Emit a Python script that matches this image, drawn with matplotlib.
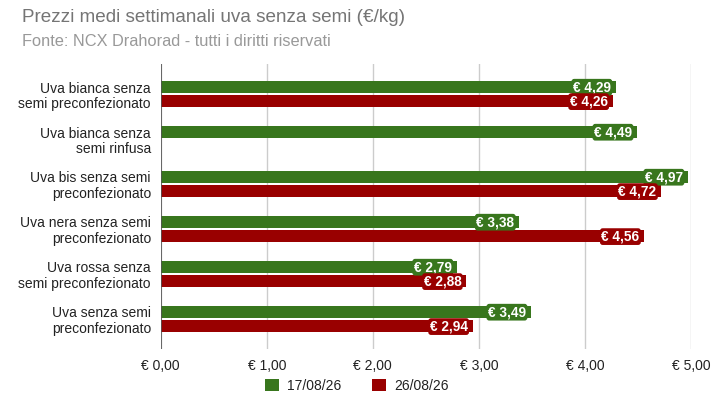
import numpy as np
import matplotlib
matplotlib.use('Agg')
import matplotlib.pyplot as plt
from matplotlib.patches import Patch

# Data
categories = [
    "Uva bianca senza\nsemi preconfezionato",
    "Uva bianca senza\nsemi rinfusa",
    "Uva bis senza semi\npreconfezionato",
    "Uva nera senza semi\npreconfezionato",
    "Uva rossa senza\nsemi preconfezionato",
    "Uva senza semi\npreconfezionato",
]
week1 = [4.29, 4.49, 4.97, 3.38, 2.79, 3.49]
week2 = [4.26, None, 4.72, 4.56, 2.88, 2.94]
series_labels = ["17/08/26", "26/08/26"]
x_ticks = [0, 1, 2, 3, 4, 5]

green = '#38761d'
red = '#990000'

plt.rcParams['font.family'] = ['Liberation Sans', 'DejaVu Sans']


def euro(v, dec=2):
    return "€ " + f"{v:.{dec}f}".replace('.', ',')


fig = plt.figure(figsize=(7.12, 4.01), dpi=100)
ax = fig.add_axes([0.2257, 0.1297, 0.7448, 0.7107])

y = np.arange(len(categories))
bar_h = 0.265
off = 0.16

for vals, color, sign in [(week1, green, -1), (week2, red, 1)]:
    for i, v in enumerate(vals):
        if v is None:
            continue
        yy = y[i] + sign * off
        ax.barh(yy, v, height=bar_h, color=color, zorder=3)
        ax.annotate(euro(v), xy=(v, yy), xytext=(-3.5, -0.3), textcoords='offset points',
                    ha='right', va='center', color='white', fontsize=9.8,
                    fontweight='bold', zorder=4,
                    bbox=dict(boxstyle='round,pad=0.1,rounding_size=0.2',
                              fc=color, ec='none'))

ax.set_ylim(len(categories) - 0.5 + 0.167, -0.5 - 0.167)
ax.set_xlim(0, 5)
ax.set_yticks(y)
ax.set_yticklabels(categories, fontsize=10, color='#222222', linespacing=1.1)
ax.set_xticks(x_ticks)
ax.set_xticklabels([euro(t) for t in x_ticks], fontsize=10, color='#222222')
ax.tick_params(axis='both', length=0)
ax.tick_params(axis='y', pad=7)
ax.tick_params(axis='x', pad=7)

for s in ax.spines.values():
    s.set_visible(False)
ax.grid(axis='x', color='#cccccc', linewidth=1, zorder=0)
ax.axvline(0, color='#555555', linewidth=1.2, zorder=5)

fig.text(22 / 712, 1 - 17 / 401, "Prezzi medi settimanali uva senza semi (€/kg)",
         fontsize=13.6, color='#757575', ha='left', va='center')
fig.text(22 / 712, 1 - 42 / 401, "Fonte: NCX Drahorad - tutti i diritti riservati",
         fontsize=11.8, color='#999999', ha='left', va='center')

handles = [Patch(facecolor=green, label=series_labels[0]),
           Patch(facecolor=red, label=series_labels[1])]
fig.legend(handles=handles, loc='center', bbox_to_anchor=(357 / 712, 1 - 386 / 401),
           ncol=2, frameon=False, fontsize=10, handlelength=1.0, handleheight=1.0,
           columnspacing=2.2, handletextpad=0.6, labelcolor='#222222')

fig.savefig('out.png', dpi=100, facecolor='white')
